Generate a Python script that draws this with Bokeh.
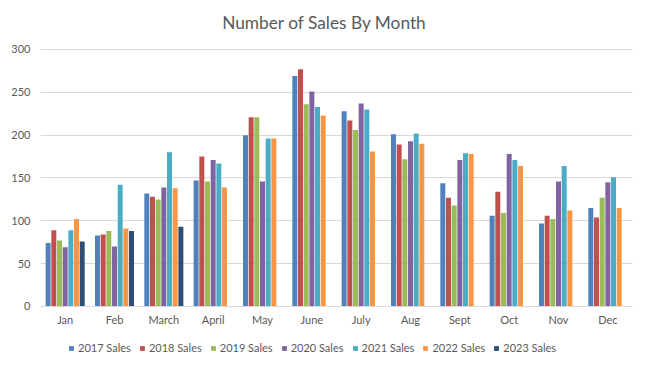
from bokeh.plotting import figure
from bokeh.models import ColumnDataSource, FactorRange, Range1d, FixedTicker, Legend, LegendItem, Label
from bokeh.transform import dodge
from bokeh.embed import file_html
from bokeh.resources import INLINE

title_text = "Number of Sales By Month"
months = ["Jan", "Feb", "March", "April", "May", "June", "July", "Aug", "Sept", "Oct", "Nov", "Dec"]
series_names = ["2017 Sales", "2018 Sales", "2019 Sales", "2020 Sales", "2021 Sales", "2022 Sales", "2023 Sales"]
sales_2017 = [74, 83, 132, 147, 200, 269, 228, 201, 144, 106, 97, 115]
sales_2018 = [89, 84, 128, 175, 221, 277, 217, 189, 127, 134, 106, 104]
sales_2019 = [77, 88, 125, 146, 221, 236, 206, 172, 118, 109, 102, 127]
sales_2020 = [69, 70, 139, 171, 146, 251, 237, 193, 171, 178, 146, 145]
sales_2021 = [89, 142, 180, 167, 196, 233, 230, 202, 179, 171, 164, 151]
sales_2022 = [102, 91, 138, 139, 196, 223, 181, 190, 178, 164, 112, 115]
sales_2023 = [76, 88, 93, None, None, None, None, None, None, None, None, None]
y_ticks = [0, 50, 100, 150, 200, 250, 300]

colors = ["#4F81BD", "#C0504D", "#9BBB59", "#8064A2", "#4BACC6", "#F79646", "#2C4D75"]
all_series = [sales_2017, sales_2018, sales_2019, sales_2020, sales_2021, sales_2022, sales_2023]

FONT = "Lato"
TXT = "#595959"
GRID = "#d9d9d9"

# frame spans the full height so the title, month labels and legend sit inside it
p = figure(width=636, height=359, x_range=FactorRange(*months), y_range=Range1d(-61.9, 357.2),
           output_backend="svg", toolbar_location=None,
           min_border_left=40, min_border_right=4, min_border_top=0, min_border_bottom=0)

p.add_layout(Label(x=5.757, y=332, text=title_text, text_font=FONT, text_font_size="17.3px",
                   text_color=TXT, text_align="center", text_baseline="alphabetic"))

pitch = 0.115
bw = 0.101
items = []
for i, (name, vals, col) in enumerate(zip(series_names, all_series, colors)):
    xs = [m for m, v in zip(months, vals) if v is not None]
    tops = [v for v in vals if v is not None]
    src = ColumnDataSource(dict(x=xs, top=tops))
    r = p.vbar(x=dodge("x", (i - 3) * pitch, range=p.x_range), top="top", width=bw,
               source=src, fill_color=col, line_color=None)
    items.append(LegendItem(label=name, renderers=[r]))

p.outline_line_color = None
p.xgrid.grid_line_color = None
p.ygrid.grid_line_color = GRID
p.yaxis.ticker = FixedTicker(ticks=y_ticks)
p.yaxis.axis_line_color = None
for ax in (p.xaxis, p.yaxis):
    ax.major_tick_line_color = None
    ax.minor_tick_line_color = None
    ax.major_tick_out = 0
    ax.major_tick_in = 0
    ax.minor_tick_out = 0
    ax.major_label_text_font = FONT
    ax.major_label_text_font_size = "11px"
    ax.major_label_text_color = TXT
p.yaxis.major_label_standoff = 10
p.xaxis.fixed_location = 0
p.xaxis.axis_line_color = GRID
p.xaxis.major_label_standoff = 7

legend = Legend(items=items, orientation="horizontal", location=(28, 5),
                glyph_width=6, glyph_height=6, label_standoff=4, spacing=8,
                padding=0, margin=0, border_line_color=None, background_fill_alpha=0,
                label_text_font=FONT, label_text_font_size="11px", label_text_color=TXT,
                label_height=12)
p.add_layout(legend, "center")

open("out.html", "w").write(file_html(p, INLINE))
